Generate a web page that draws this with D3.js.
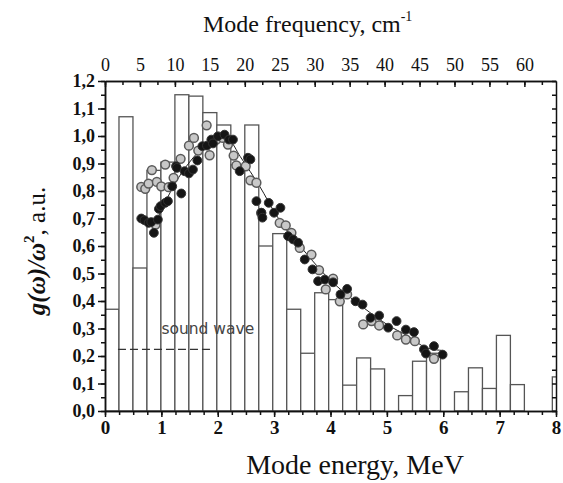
<!DOCTYPE html>
<html>
<head>
<meta charset="utf-8">
<script src="https://cdn.jsdelivr.net/npm/d3@7/dist/d3.min.js"></script>
<style>
  body { margin: 0; background: #fff; }
  text { font-family: "Liberation Serif", "Times New Roman", serif; }
</style>
</head>
<body>
<div id="graph"></div>
<script>
// histogram: bins 2 cm-1 wide, left edge in cm-1
var binStart = d3.range(0, 66, 2);
var binValue = [0.37, 1.07, 0.52, 0.875, 0.905, 1.15, 1.145, 1.085, 1.04, 0.895,
                1.04, 0.60, 0.645, 0.37, 0.21, 0.43, 0.405, 0.094, 0.193, 0.153,
                0, 0.056, 0.181, 0.21, 0, 0.07, 0.157, 0.082, 0.275, 0.096,
                0, 0, 0.124];

// open (grey) circles: energy, g/w^2
var openE = [0.643, 0.714, 0.773, 0.832, 0.897, 0.92, 0.998, 1.069, 1.128, 1.217,
             1.341, 1.489, 1.578, 1.655, 1.803, 1.856, 1.975, 2.092, 2.181, 2.282,
             2.33, 2.496, 2.579, 2.686, 2.77, 3.099, 3.206, 3.307, 3.455, 3.662,
             3.797, 3.916, 4.046, 4.165, 4.295, 4.58, 4.728, 4.863, 5.183, 5.337,
             5.497, 5.835];
var openG = [0.815, 0.808, 0.827, 0.876, 0.678, 0.833, 0.817, 0.896, 0.814, 0.848,
             0.917, 0.965, 0.993, 0.947, 1.039, 0.93, 0.987, 0.993, 0.969, 0.929,
             0.893, 0.89, 0.839, 0.83, 0.72, 0.684, 0.675, 0.648, 0.593, 0.569,
             0.512, 0.442, 0.481, 0.399, 0.424, 0.315, 0.327, 0.311, 0.275, 0.26,
             0.254, 0.19];

// filled (black) circles
var fullE = [0.643, 0.70, 0.773, 0.82, 0.867, 0.938, 0.956, 0.986, 1.069, 1.116,
             1.193, 1.26, 1.275, 1.353, 1.412, 1.489, 1.56, 1.638, 1.727, 1.808,
             1.886, 1.915, 2.003, 2.12, 2.199, 2.27, 2.389, 2.536, 2.579, 2.686,
             2.774, 2.792, 2.904, 2.999, 3.112, 3.247, 3.336, 3.425, 3.543, 3.68,
             3.78, 3.899, 4.046, 4.177, 4.295, 4.444, 4.568, 4.71, 4.863, 5.023,
             5.172, 5.337, 5.48, 5.657, 5.693, 5.835, 5.989];
var fullG = [0.70, 0.694, 0.684, 0.687, 0.648, 0.696, 0.735, 0.745, 0.757, 0.763,
             0.817, 0.89, 0.884, 0.791, 0.872, 0.864, 0.878, 0.911, 0.963, 0.965,
             0.987, 0.973, 0.999, 1.005, 0.987, 0.987, 0.872, 0.921, 0.915, 0.763,
             0.721, 0.703, 0.757, 0.721, 0.739, 0.636, 0.624, 0.612, 0.551, 0.515,
             0.472, 0.478, 0.468, 0.424, 0.444, 0.399, 0.387, 0.339, 0.347, 0.303,
             0.327, 0.296, 0.287, 0.224, 0.209, 0.236, 0.205];

// smooth fit curve
var fitE = [0.85, 1.0, 1.25, 1.5, 1.75, 2.0, 2.2, 2.4, 2.75, 3.0, 3.25, 3.5, 3.75, 4.0, 4.4, 5.0, 5.35, 5.7, 6.0];
var fitG = [0.665, 0.73, 0.83, 0.905, 0.96, 0.99, 0.985, 0.925, 0.815, 0.725, 0.65, 0.59, 0.53, 0.475, 0.405, 0.315, 0.275, 0.23, 0.22];

// sound wave level
var soundE = [0.23, 1.93];
var soundG = 0.224;

var energyTicks = d3.range(0, 9);
var freqTicks = d3.range(0, 65, 5);
var gTicks = d3.range(0, 1.21, 0.1);

var cmPerMeV = 8.0655;

var margin = { top: 81, right: 7, bottom: 72, left: 105 },
    width = 563 - margin.left - margin.right,
    height = 483 - margin.top - margin.bottom;

var x = d3.scaleLinear().domain([0, 8]).range([0, width]);
var xf = d3.scaleLinear().domain([0, 8 * cmPerMeV]).range([0, width]);
var y = d3.scaleLinear().domain([0, 1.2]).range([height, 0]);

var svg = d3.select("#graph")
    .append("svg")
        .attr("width", 563)
        .attr("height", 483)
    .append("g")
        .attr("transform", "translate(" + margin.left + "," + margin.top + ")");

svg.append("clipPath").attr("id", "clip")
    .append("rect").attr("width", width).attr("height", height);

// histogram bars (empty bins skipped)
var bins = binValue.map(function(v, i) { return { start: binStart[i], value: v }; })
    .filter(function(b) { return b.value > 0; });

svg.append("g").attr("clip-path", "url(#clip)")
  .selectAll("rect")
    .data(bins)
  .enter().append("rect")
    .attr("x", function(d) { return xf(d.start); })
    .attr("width", function(d) { return xf(d.start + 2) - xf(d.start); })
    .attr("y", function(d) { return y(d.value); })
    .attr("height", function(d) { return height - y(d.value); })
    .attr("fill", "#fff")
    .attr("stroke", "#555")
    .attr("stroke-width", 1.3);

// sound wave line
svg.append("line")
    .attr("x1", x(soundE[0])).attr("x2", x(soundE[1]))
    .attr("y1", y(soundG)).attr("y2", y(soundG))
    .attr("stroke", "#333")
    .attr("stroke-width", 1.4)
    .attr("stroke-dasharray", "8,4");

svg.append("text")
    .attr("x", x(1.0))
    .attr("y", y(0.28))
    .style("font-family", "'DejaVu Sans', sans-serif")
    .style("font-size", "15.5px")
    .attr("fill", "#444")
    .text("sound wave");

// fit line
var fit = fitE.map(function(e, i) { return [e, fitG[i]]; });
svg.append("path")
    .datum(fit)
    .attr("fill", "none")
    .attr("stroke", "#222")
    .attr("stroke-width", 1)
    .attr("d", d3.line()
        .x(function(d) { return x(d[0]); })
        .y(function(d) { return y(d[1]); })
        .curve(d3.curveCatmullRom));

// grey open circles
svg.append("g").selectAll("circle")
    .data(openE)
  .enter().append("circle")
    .attr("cx", function(d) { return x(d); })
    .attr("cy", function(d, i) { return y(openG[i]); })
    .attr("r", 4.4)
    .attr("fill", "#c8c8c8")
    .attr("stroke", "#5a5a5a")
    .attr("stroke-width", 1.5);

// black circles
svg.append("g").selectAll("circle")
    .data(fullE)
  .enter().append("circle")
    .attr("cx", function(d) { return x(d); })
    .attr("cy", function(d, i) { return y(fullG[i]); })
    .attr("r", 4.4)
    .attr("fill", "#151515")
    .attr("stroke", "#333")
    .attr("stroke-width", 1);

// axes
function styleAxis(g) {
    g.selectAll("path, line").attr("stroke", "#111").attr("stroke-width", 1.5);
    g.selectAll("text").attr("fill", "#111");
}

var comma = function(d) { return d3.format(".1f")(d).replace(".", ","); };

// bottom
svg.append("g")
    .attr("transform", "translate(0," + height + ")")
    .call(d3.axisBottom(x).tickValues(d3.range(0, 8.01, 0.25)).tickSize(4).tickSizeOuter(0).tickFormat(""))
    .call(styleAxis);
svg.append("g")
    .attr("transform", "translate(0," + height + ")")
    .call(d3.axisBottom(x).tickValues(energyTicks).tickSize(6).tickSizeOuter(0).tickPadding(4))
    .call(styleAxis)
    .selectAll("text")
        .style("font-size", "19px").style("font-weight", "bold");

// left
svg.append("g")
    .call(d3.axisLeft(y).tickValues(d3.range(0, 1.21, 0.05)).tickSize(4).tickSizeOuter(0).tickFormat(""))
    .call(styleAxis);
svg.append("g")
    .call(d3.axisLeft(y).tickValues(gTicks).tickSize(7).tickSizeOuter(0).tickPadding(3).tickFormat(comma))
    .call(styleAxis)
    .selectAll("text")
        .style("font-size", "18px").style("font-weight", "bold");

// right
svg.append("g")
    .attr("transform", "translate(" + width + ",0)")
    .call(d3.axisRight(y).tickValues(d3.range(0, 1.21, 0.05)).tickSize(-4).tickSizeOuter(0).tickFormat(""))
    .call(styleAxis);

// top
svg.append("g")
    .call(d3.axisTop(xf).tickValues(d3.range(0, 64.5, 2.5)).tickSize(-4).tickSizeOuter(0).tickFormat(""))
    .call(styleAxis);
svg.append("g")
    .call(d3.axisTop(xf).tickValues(freqTicks).tickSize(-6).tickSizeOuter(0).tickPadding(10))
    .call(styleAxis)
    .selectAll("text")
        .style("font-size", "18px");

// axis titles
var topTitle = svg.append("text")
    .attr("x", 203 - margin.left)
    .attr("y", 32 - margin.top)
    .style("font-size", "24px")
    .attr("fill", "#111")
    .text("Mode frequency, cm");
topTitle.append("tspan").attr("dy", -11).style("font-size", "14px").text("-1");

svg.append("text")
    .attr("x", 355 - margin.left)
    .attr("y", height + 63)
    .attr("text-anchor", "middle")
    .style("font-size", "28px")
    .attr("fill", "#111")
    .text("Mode energy, MeV");

var yl = svg.append("text")
    .attr("transform", "translate(" + (45 - margin.left) + "," + (height / 2 + 5) + ") rotate(-90)")
    .attr("text-anchor", "middle")
    .style("font-size", "25px")
    .attr("fill", "#111");
yl.append("tspan").style("font-weight", "bold").style("font-style", "italic").text("g(ω)/ω");
yl.append("tspan").attr("dy", -11).style("font-size", "15px").style("font-weight", "bold").text("2");
yl.append("tspan").attr("dy", 11).text(", a.u.");
</script>
</body>
</html>
